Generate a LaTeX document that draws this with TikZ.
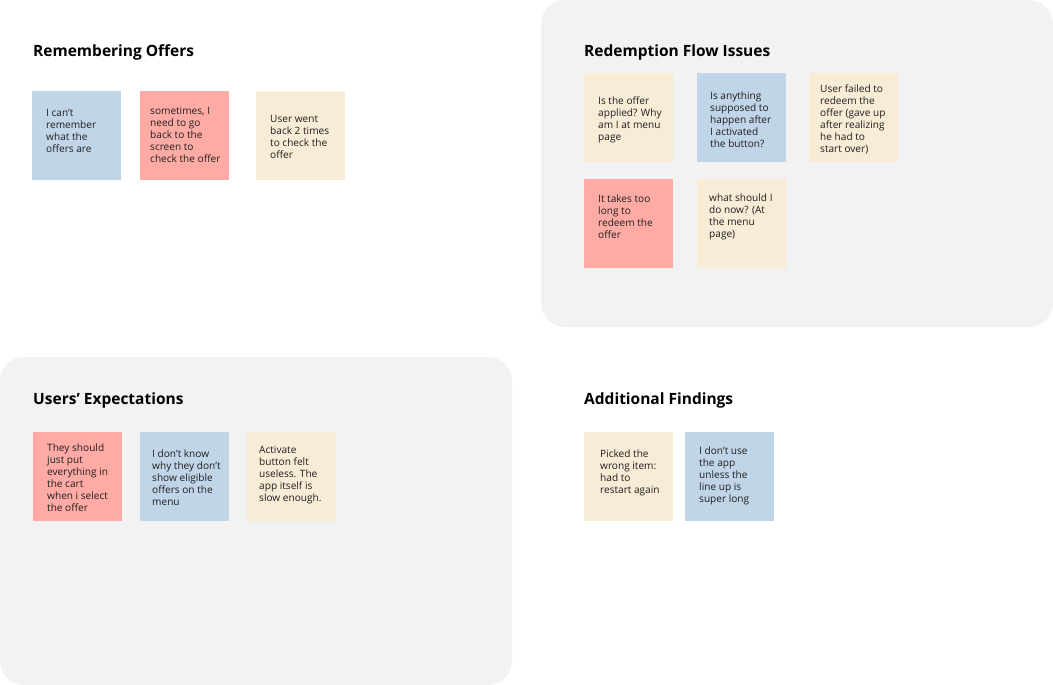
\documentclass[tikz,border=0pt]{standalone}
\usepackage{fontspec}
\setmainfont{Open Sans}
\definecolor{panelgray}{HTML}{F2F2F2}
\definecolor{noteblue}{HTML}{C1D5E9}
\definecolor{notered}{HTML}{FFABA5}
\definecolor{notebeige}{HTML}{F8ECD6}
\definecolor{inkdark}{HTML}{1E1E1E}
\begin{document}
\begin{tikzpicture}[x=1pt,y=-1pt,
  panel/.style={fill=panelgray, draw=none, rounded corners=24pt},
  note/.style={draw=none, minimum width=89pt, minimum height=89pt, inner sep=0pt, anchor=north west},
  txt/.style={anchor=west, align=left, inner sep=0pt, font=\fontsize{10.1}{12}\selectfont, text=inkdark},
  ttl/.style={anchor=west, inner sep=0pt, font=\fontsize{15.5}{18}\selectfont\bfseries, text=black}]
\useasboundingbox (0,0) rectangle (1053,685);
% panels
\fill[panel] (541,0) rectangle (1053,327);
\fill[panel] (0,357) rectangle (512,685);
% Remembering Offers
\node[ttl] (t1) at (33,52.5) {Remembering Offers};
\node[note, fill=noteblue] (a1) at (32,91) {};
\node[txt] (a1t) at (46,131.3) {I can't\\remember\\what the\\offers are};
\node[note, fill=notered] (a2) at (140,91) {};
\node[txt] (a2t) at (150,134.7) {sometimes, I\\need to go\\back to the\\screen to\\check the offer};
\node[note, fill=notebeige] (a3) at (256,91) {};
\node[txt] (a3t) at (270,137.3) {User went\\back 2 times\\to check the\\offer};
% Redemption Flow Issues
\node[ttl] (t2) at (584,52.5) {Redemption Flow Issues};
\node[note, fill=notebeige] (b1) at (584,73) {};
\node[txt] (b1t) at (598,119.5) {Is the offer\\applied? Why\\am I at menu\\page};
\node[note, fill=noteblue] (b2) at (697,73) {};
\node[txt] (b2t) at (710,119.5) {Is anything\\supposed to\\happen after\\I activated\\the button?};
\node[note, fill=notebeige] (b3) at (809,73) {};
\node[txt] (b3t) at (820,119.2) {User failed to\\redeem the\\offer (gave up\\after realizing\\he had to\\start over)};
\node[note, fill=notered] (b4) at (584,179) {};
\node[txt] (b4t) at (598,216.5) {It takes too\\long to\\redeem the\\offer};
\node[note, fill=notebeige] (b5) at (697,179) {};
\node[txt] (b5t) at (709,216.5) {what should I\\do now? (At\\the menu\\page)};
% Users' Expectations
\node[ttl] (t3) at (33,400.5) {Users’ Expectations};
\node[note, fill=notered] (c1) at (33,432) {};
\node[txt] (c1t) at (47,477.3) {They should\\just put\\everything in\\the cart\\when i select\\the offer};
\node[note, fill=noteblue] (c2) at (140,432) {};
\node[txt] (c2t) at (152,478) {I don’t know\\why they don’t\\show eligible\\offers on the\\menu};
\node[note, fill=notebeige] (c3) at (247,432) {};
\node[txt] (c3t) at (259,474.8) {Activate\\button felt\\useless. The\\app itself is\\slow enough.};
% Additional Findings
\node[ttl] (t4) at (584,400.5) {Additional Findings};
\node[note, fill=notebeige] (d1) at (584,432) {};
\node[txt] (d1t) at (600,472.5) {Picked the\\wrong item:\\had to\\restart again};
\node[note, fill=noteblue] (d2) at (685,432) {};
\node[txt] (d2t) at (699,476) {I don’t use\\the app\\unless the\\line up is\\super long};
\end{tikzpicture}
\end{document}
